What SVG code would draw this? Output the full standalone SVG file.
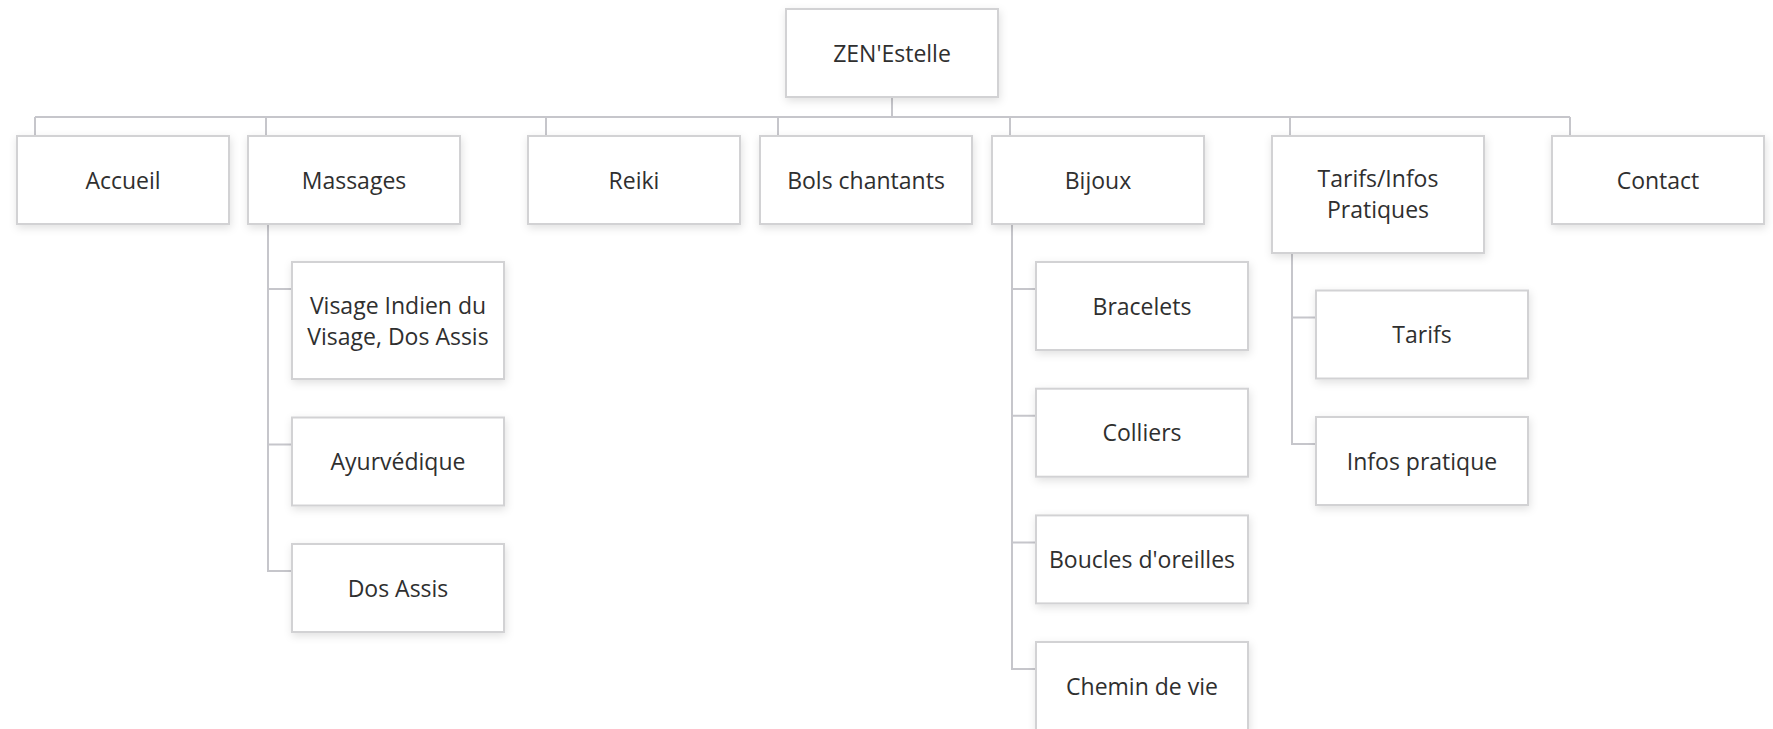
<svg xmlns="http://www.w3.org/2000/svg" width="1773" height="729" viewBox="0 0 1773 729">
<defs>
<filter id="sh" x="-10%" y="-10%" width="125%" height="130%">
<feDropShadow dx="1" dy="3" stdDeviation="4" flood-color="#000" flood-opacity="0.12"/>
</filter>
<style>
.box{fill:#fff;stroke:#d2d2d4;stroke-width:2;filter:url(#sh)}
.lbl{font-family:"Open Sans","Noto Sans",sans-serif;font-size:23px;fill:#2f2f2f;text-anchor:middle}
.c{fill:none;stroke:#c6c6cb;stroke-width:2}
</style>
</defs>
<rect width="1773" height="729" fill="#fff"/>
<g id="connectors">
<path class="c" d="M892 97V117M35 117H1570M35 117V136M266 117V136M546 117V136M778 117V136M1010 117V136M1290 117V136M1570 117V136"/>
<path class="c" d="M268 224V571H292M268 289H292M268 444.5H292"/>
<path class="c" d="M1012 224V669H1036M1012 289H1036M1012 415.7H1036M1012 542.4H1036"/>
<path class="c" d="M1292 252V444H1316M1292 317.5H1316"/>
</g>
<g id="n-root"><rect class="box" x="786" y="9" width="212" height="88"/><text class="lbl" x="892" y="61.5">ZEN'Estelle</text></g>
<g id="n-accueil"><rect class="box" x="17" y="136" width="212" height="88"/><text class="lbl" x="123" y="188.5">Accueil</text></g>
<g id="n-massages"><rect class="box" x="248" y="136" width="212" height="88"/><text class="lbl" x="354" y="188.5">Massages</text></g>
<g id="n-reiki"><rect class="box" x="528" y="136" width="212" height="88"/><text class="lbl" x="634" y="188.5">Reiki</text></g>
<g id="n-bols"><rect class="box" x="760" y="136" width="212" height="88"/><text class="lbl" x="866" y="188.5">Bols chantants</text></g>
<g id="n-bijoux"><rect class="box" x="992" y="136" width="212" height="88"/><text class="lbl" x="1098" y="188.5">Bijoux</text></g>
<g id="n-tarifsinfos"><rect class="box" x="1272" y="136" width="212" height="117"/><text class="lbl" x="1378" y="187">Tarifs/Infos</text><text class="lbl" x="1378" y="218">Pratiques</text></g>
<g id="n-contact"><rect class="box" x="1552" y="136" width="212" height="88"/><text class="lbl" x="1658" y="188.5">Contact</text></g>
<g id="n-visage"><rect class="box" x="292" y="262" width="212" height="117"/><text class="lbl" x="398" y="313.5">Visage Indien du</text><text class="lbl" x="398" y="344.5">Visage, Dos Assis</text></g>
<g id="n-ayurvedique"><rect class="box" x="292" y="417.5" width="212" height="88"/><text class="lbl" x="398" y="470">Ayurvédique</text></g>
<g id="n-dosassis"><rect class="box" x="292" y="544" width="212" height="88"/><text class="lbl" x="398" y="596.5">Dos Assis</text></g>
<g id="n-bracelets"><rect class="box" x="1036" y="262" width="212" height="88"/><text class="lbl" x="1142" y="314.5">Bracelets</text></g>
<g id="n-colliers"><rect class="box" x="1036" y="388.7" width="212" height="88"/><text class="lbl" x="1142" y="441.2">Colliers</text></g>
<g id="n-boucles"><rect class="box" x="1036" y="515.4" width="212" height="88"/><text class="lbl" x="1142" y="567.9">Boucles d'oreilles</text></g>
<g id="n-chemin"><rect class="box" x="1036" y="642" width="212" height="88"/><text class="lbl" x="1142" y="694.5">Chemin de vie</text></g>
<g id="n-tarifs"><rect class="box" x="1316" y="290.5" width="212" height="88"/><text class="lbl" x="1422" y="343">Tarifs</text></g>
<g id="n-infos"><rect class="box" x="1316" y="417" width="212" height="88"/><text class="lbl" x="1422" y="469.5">Infos pratique</text></g>
</svg>
